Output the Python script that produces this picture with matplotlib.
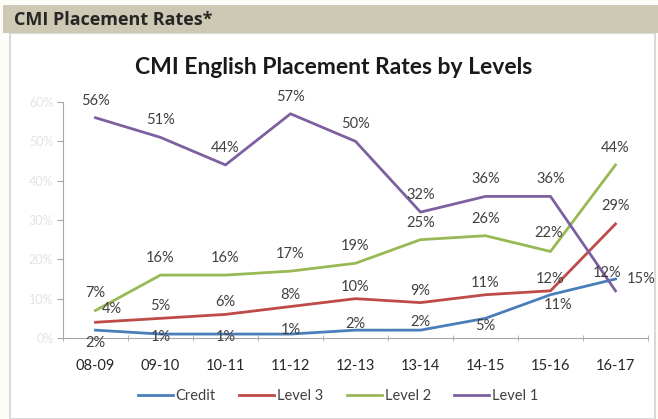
import matplotlib
matplotlib.use("Agg")
import matplotlib.pyplot as plt
from matplotlib.patches import Rectangle

years = ["08-09", "09-10", "10-11", "11-12", "12-13", "13-14", "14-15", "15-16", "16-17"]
credit = [2, 1, 1, 1, 2, 2, 5, 11, 15]
level_3 = [4, 5, 6, 8, 10, 9, 11, 12, 29]
level_2 = [7, 16, 16, 17, 19, 25, 26, 22, 44]
level_1 = [56, 51, 44, 57, 50, 32, 36, 36, 12]

series = [
    ("Credit", credit, "#4a7ebb"),
    ("Level 3", level_3, "#be4b48"),
    ("Level 2", level_2, "#98b954"),
    ("Level 1", level_1, "#7d60a0"),
]

# label offsets in pixels (default: centred above the point)
default_off = {"Credit": (0, 10), "Level 3": (0, 12), "Level 2": (0, 17), "Level 1": (0, 17)}
special_off = {
    ("Credit", 0): (0, -13), ("Credit", 1): (0, -3), ("Credit", 2): (0, -3),
    ("Credit", 3): (0, 4), ("Credit", 4): (0, 6), ("Credit", 5): (0, 8),
    ("Credit", 6): (0, -8), ("Credit", 7): (8, -10), ("Credit", 8): (26, 0),
    ("Level 3", 0): (16, 13), ("Level 3", 8): (0, 18),
    ("Level 2", 7): (-2, 18),
    ("Level 1", 8): (-8, 18),
}

plt.rcParams["font.family"] = ["Lato", "DejaVu Sans"]

fig = plt.figure(figsize=(6.58, 4.19), dpi=100)
W, H = 658, 419

# header band and chart frame
fig.patches.append(Rectangle((0, 0), 1, 1, transform=fig.transFigure, color="#fdfcf6", zorder=-3))
fig.patches.append(Rectangle((10 / W, 0), 645 / W, (419 - 33) / H, transform=fig.transFigure,
                             facecolor="white", edgecolor="#d9d9d9", lw=1.5, zorder=-2))
fig.patches.append(Rectangle((3 / W, (419 - 33) / H), 655 / W, 28 / H, transform=fig.transFigure,
                             facecolor="#cdc9b4", edgecolor="none", zorder=-1))
fig.text(14 / W, 1 - 20 / H, "CMI Placement Rates*", fontsize=13, fontweight="bold",
         family=["Open Sans", "DejaVu Sans"], color="#262626", va="center", ha="left")
fig.text(334 / W, 1 - 67 / H, "CMI English Placement Rates by Levels", fontsize=16.5,
         fontweight="bold", color="#1a1a1a", va="center", ha="center")

ax = fig.add_axes([63 / W, (419 - 338) / H, (648 - 63) / W, (338 - 102) / H])
ax.set_facecolor("none")
x = list(range(len(years)))
for name, vals, color in series:
    ax.plot(x, vals, color=color, lw=2, label=name)
    for i, v in enumerate(vals):
        off = special_off.get((name, i), default_off[name])
        ax.annotate(f"{v}%", (i, v), xytext=off, textcoords="offset pixels",
                    ha="center", va="center", fontsize=10.5, color="#404040")

ax.set_xlim(-0.5, len(years) - 0.5)
ax.set_ylim(0, 60)
ax.set_xticks(x)
ax.set_xticklabels(years, fontsize=10.5, color="#262626")
ax.set_xticks([i - 0.5 for i in range(len(years) + 1)], minor=True)
ax.tick_params(axis="x", which="major", length=0, pad=15)
ax.tick_params(axis="x", which="minor", length=4, color="#a6a6a6", direction="inout")
ax.set_yticks(range(0, 61, 10))
ax.set_yticklabels([f"{t}%" for t in range(0, 61, 10)], fontsize=9, color="#e3e3e3")
ax.tick_params(axis="y", length=4, color="#a6a6a6", pad=3)
for s in ["top", "right"]:
    ax.spines[s].set_visible(False)
ax.spines["left"].set_color("#a6a6a6")
ax.spines["bottom"].set_color("#a6a6a6")

ax.legend(loc="center", bbox_to_anchor=(338 / W, 1 - 396 / H), bbox_transform=fig.transFigure,
          ncol=4, frameon=False, fontsize=10.5, handlelength=2.4, columnspacing=1.6,
          handletextpad=0.2, labelcolor="#404040")

fig.savefig("out.png", dpi=100)
